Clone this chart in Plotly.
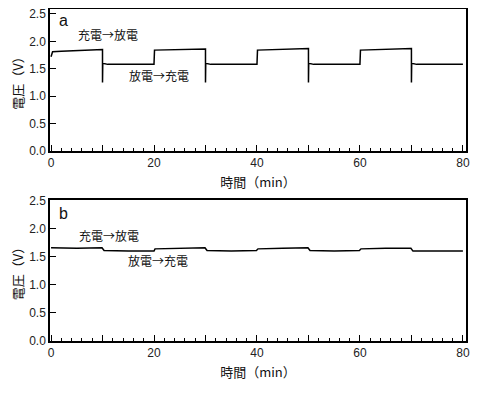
import plotly.graph_objects as go

# Panel a: charge/discharge voltage (V) vs time (min)
time_a = [0, 0.3, 2, 5, 9.95, 10, 10, 10.05, 11, 15, 19.95,
          20, 20.1, 25, 29.95, 30, 30, 30.05, 31, 35, 39.95,
          40, 40.1, 45, 49.95, 50, 50, 50.05, 51, 55, 59.95,
          60, 60.1, 65, 69.95, 70, 70, 70.05, 71, 75, 80]
volt_a = [1.72, 1.81, 1.82, 1.83, 1.85, 1.85, 1.25, 1.60, 1.58, 1.58, 1.58,
          1.58, 1.84, 1.85, 1.86, 1.86, 1.25, 1.60, 1.58, 1.58, 1.58,
          1.58, 1.84, 1.86, 1.87, 1.87, 1.25, 1.60, 1.58, 1.58, 1.58,
          1.58, 1.84, 1.86, 1.87, 1.87, 1.25, 1.60, 1.58, 1.58, 1.58]

# Panel b
time_b = [0, 5, 9.9, 10.3, 15, 19.5, 20, 20.2, 25, 29.9, 30.3, 35, 39.9,
          40.2, 45, 49.9, 50.3, 55, 59.9, 60.2, 65, 69.9, 70.3, 75, 80]
volt_b = [1.66, 1.65, 1.66, 1.61, 1.60, 1.59, 1.60, 1.64, 1.65, 1.66, 1.61, 1.60, 1.61,
          1.64, 1.65, 1.66, 1.61, 1.60, 1.61, 1.64, 1.65, 1.65, 1.60, 1.60, 1.60]

x_major = [0, 10, 20, 30, 40, 50, 60, 70, 80]
x_labels = ["0", "", "20", "", "40", "", "60", "", "80"]
y_ticks = [0.0, 0.5, 1.0, 1.5, 2.0, 2.5]

x_title = "時間（min）"
y_title = "電圧（V）"
lbl_cd = "充電→放電"
lbl_dc = "放電→充電"

fig = go.Figure()
fig.add_trace(go.Scatter(x=time_a, y=volt_a, mode="lines", xaxis="x", yaxis="y",
                         line=dict(color="black", width=1.5), showlegend=False))
fig.add_trace(go.Scatter(x=time_b, y=volt_b, mode="lines", xaxis="x2", yaxis="y2",
                         line=dict(color="black", width=1.5), showlegend=False))

num_font = dict(family="Liberation Sans, Arial, sans-serif", size=12, color="#222")
jp_font = "Noto Sans CJK JP, sans-serif"

def xax(anchor):
    return dict(anchor=anchor, range=[-0.2, 80.6], tickmode="array", tickvals=x_major,
                ticktext=x_labels, ticks="inside", ticklen=6, tickwidth=1.3,
                tickcolor="black", showline=True, linecolor="black", linewidth=1.5,
                mirror=True, showgrid=False, zeroline=False, tickfont=num_font,
                automargin=False,
                minor=dict(dtick=2, tick0=0, ticks="inside", ticklen=3,
                           tickwidth=1, tickcolor="black", showgrid=False),
                title=dict(text=x_title, font=dict(family=jp_font, size=13, color="#111"),
                           standoff=9))

def yax(anchor, domain, top):
    return dict(anchor=anchor, domain=domain, range=[0, top], tickmode="array",
                tickvals=y_ticks, tickformat=".1f", ticks="inside", ticklen=6,
                tickwidth=1.3, tickcolor="black", showline=True, linecolor="black",
                linewidth=1.5, mirror=True, showgrid=False, zeroline=False,
                tickfont=num_font, automargin=False, ticklabeloverflow="allow",
                title=dict(text=y_title, font=dict(family=jp_font, size=13, color="#111"),
                           standoff=5))

fig.update_layout(
    width=472, height=387,
    margin=dict(l=42, r=14, t=1, b=54),
    plot_bgcolor="white", paper_bgcolor="white",
    xaxis=xax("y"), yaxis=yax("x", [0.5723, 1.0], 2.59),
    xaxis2=xax("y2"), yaxis2=yax("x2", [0.0, 0.4247], 2.51),
)

ann_font = dict(family=jp_font, size=12, color="#111")
anns = [
    dict(x=1.2, y=2.38, xref="x", yref="y", text="a", showarrow=False, xanchor="left",
         font=dict(family="Liberation Sans, Arial", size=16, color="#111")),
    dict(x=4.8, y=2.12, xref="x", yref="y", text=lbl_cd, showarrow=False, xanchor="left", font=ann_font),
    dict(x=14.8, y=1.38, xref="x", yref="y", text=lbl_dc, showarrow=False, xanchor="left", font=ann_font),
    dict(x=1.2, y=2.27, xref="x2", yref="y2", text="b", showarrow=False, xanchor="left",
         font=dict(family="Liberation Sans, Arial", size=16, color="#111")),
    dict(x=5.0, y=1.88, xref="x2", yref="y2", text=lbl_cd, showarrow=False, xanchor="left", font=ann_font),
    dict(x=14.6, y=1.43, xref="x2", yref="y2", text=lbl_dc, showarrow=False, xanchor="left", font=ann_font),
]
fig.update_layout(annotations=anns)

fig.write_html("out.html")
